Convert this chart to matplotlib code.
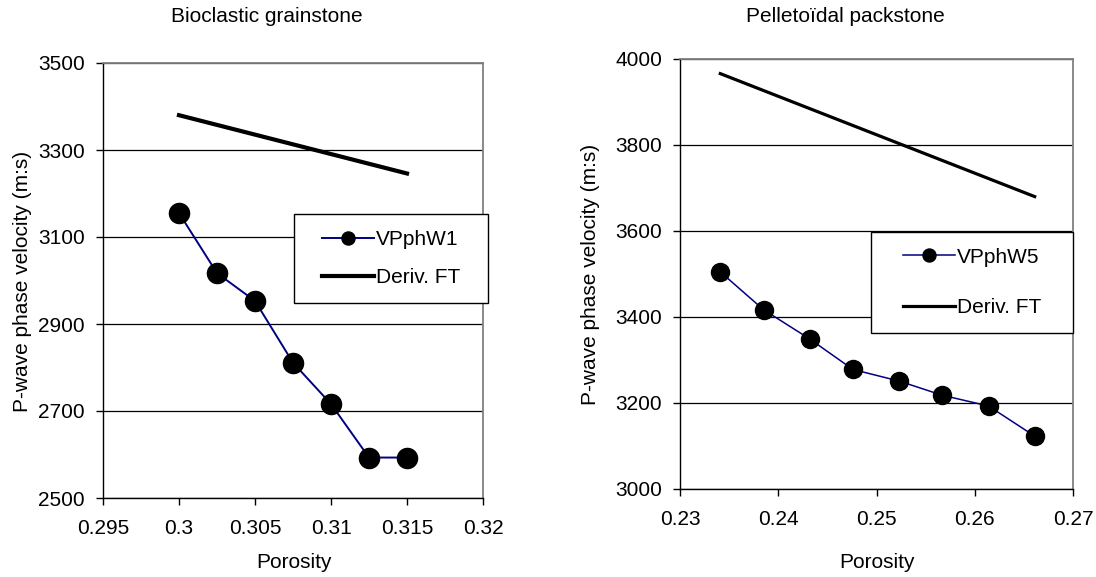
import matplotlib
matplotlib.use("Agg")
import matplotlib.pyplot as plt
import numpy as np
from matplotlib.ticker import MultipleLocator, FuncFormatter
from matplotlib.patches import Rectangle

plt.rcParams['font.family'] = ['Liberation Sans', 'DejaVu Sans']

# Left panel: Bioclastic grainstone
por_w1 = [0.3, 0.3025, 0.305, 0.3075, 0.31, 0.3125, 0.315]
vp_w1 = [3155, 3017, 2953, 2811, 2716, 2593, 2593]
por_ft1 = [0.3, 0.315]
vp_ft1 = [3380, 3246]

# Right panel: Pelletoidal packstone
por_w5 = [0.2341, 0.2385, 0.2432, 0.2476, 0.2523, 0.2567, 0.2614, 0.2661]
vp_w5 = [3505, 3417, 3349, 3278, 3251, 3218, 3193, 3123]
por_ft5 = [0.2341, 0.2661]
vp_ft5 = [3966, 3680]

titles = ["Bioclastic grainstone", "Pelletoïdal packstone"]
labels_meas = ["VPphW1", "VPphW5"]
label_ft = "Deriv. FT"
xlabel = "Porosity"
ylabel = "P-wave phase velocity (m:s)"

FS = 15
fig = plt.figure(figsize=(10.96, 5.77), dpi=100)
W, H = 1096, 577

def add_ax(x0, y0, x1, y1):
    return fig.add_axes([x0 / W, 1 - y1 / H, (x1 - x0) / W, (y1 - y0) / H])

ax1 = add_ax(103, 63, 483, 498)
ax2 = add_ax(680, 59, 1073, 489)

navy = '#000080'
fmt = FuncFormatter(lambda v, p: '%g' % round(v, 4))

def style(ax, xlim, ylim, xstep, yticks):
    ax.set_xlim(*xlim)
    ax.set_ylim(*ylim)
    ax.xaxis.set_major_locator(MultipleLocator(xstep))
    ax.xaxis.set_major_formatter(fmt)
    ax.set_yticks(yticks)
    ax.yaxis.grid(True, color='black', linewidth=0.9)
    ax.set_axisbelow(True)
    for s in ['top', 'right']:
        ax.spines[s].set_color('#808080')
        ax.spines[s].set_linewidth(1.3)
    for s in ['left', 'bottom']:
        ax.spines[s].set_color('black')
        ax.spines[s].set_linewidth(1.0)
    ax.tick_params(direction='out', length=5, width=1, labelsize=FS)
    ax.tick_params(axis='x', pad=10)
    ax.tick_params(axis='y', pad=8)

def boxed_legend(ax, handles, x0, y0, w, h, spacing, mscale):
    rect = Rectangle((x0, y0), w, h, transform=ax.transAxes, facecolor='white',
                     edgecolor='black', linewidth=1.0, clip_on=False, zorder=4.5)
    ax.add_patch(rect)
    leg = ax.legend(handles=handles, loc='center',
                    bbox_to_anchor=(x0 + w / 2, y0 + h / 2), fontsize=FS, frameon=False,
                    handlelength=2.5, handletextpad=0.12, labelspacing=spacing,
                    markerscale=mscale, borderaxespad=0, borderpad=0)
    leg.set_zorder(5)
    return leg

style(ax1, (0.295, 0.32), (2500, 3500), 0.005, np.arange(2500, 3501, 200))
l1, = ax1.plot(por_w1, vp_w1, color=navy, lw=1.4, marker='o', markersize=14.5,
               markerfacecolor='black', markeredgecolor='black', label=labels_meas[0])
l2, = ax1.plot(por_ft1, vp_ft1, color='black', lw=3.0, label=label_ft)
boxed_legend(ax1, [l1, l2], 0.503, 0.448, 0.510, 0.205, 0.92, 0.65)

style(ax2, (0.23, 0.27), (3000, 4000), 0.01, np.arange(3000, 4001, 200))
m1, = ax2.plot(por_w5, vp_w5, color=navy, lw=1.1, marker='o', markersize=13,
               markerfacecolor='black', markeredgecolor='black', label=labels_meas[1])
m2, = ax2.plot(por_ft5, vp_ft5, color='black', lw=2.3, label=label_ft)
boxed_legend(ax2, [m1, m2], 0.486, 0.363, 0.514, 0.235, 1.5, 0.72)

# Titles and axis labels
fig.text(267 / W, 1 - 17 / H, titles[0], ha='center', va='center', fontsize=15)
fig.text(845 / W, 1 - 17 / H, titles[1], ha='center', va='center', fontsize=15)
fig.text(294 / W, 1 - 562 / H, xlabel, ha='center', va='center', fontsize=FS)
fig.text(877 / W, 1 - 562 / H, xlabel, ha='center', va='center', fontsize=FS)
fig.text(23 / W, 1 - 281 / H, ylabel, ha='center', va='center', rotation=90, fontsize=FS)
fig.text(590 / W, 1 - 274 / H, ylabel, ha='center', va='center', rotation=90, fontsize=FS)

fig.savefig("out.png", dpi=100)
